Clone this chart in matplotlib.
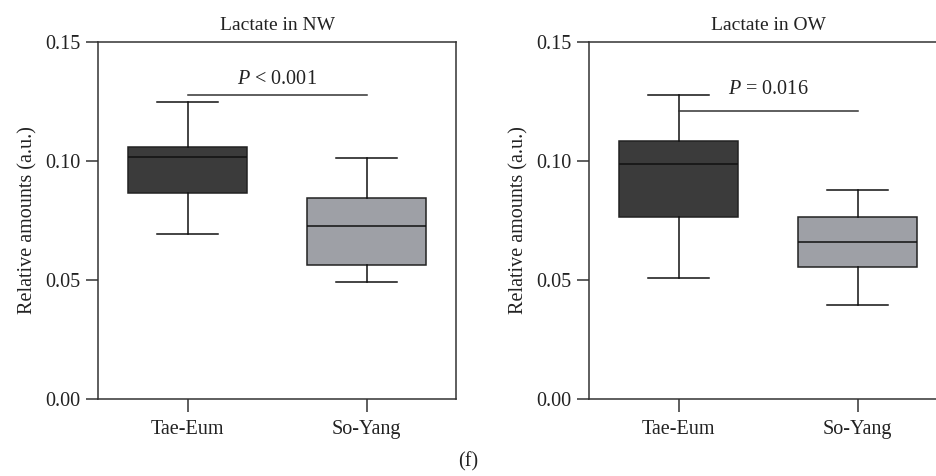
import matplotlib.pyplot as plt

groups = ['Tae-Eum', 'So-Yang']
titles = ['Lactate in NW', 'Lactate in OW']

# whislo, q1, med, q3, whishi per group
nw_stats = [[0.0692, 0.0867, 0.1017, 0.1060, 0.1249],
            [0.0490, 0.0565, 0.0726, 0.0845, 0.1011]]
ow_stats = [[0.0508, 0.0766, 0.0986, 0.1083, 0.1277],
            [0.0394, 0.0553, 0.0658, 0.0763, 0.0878]]
p_texts = ['$P$ < 0.001', '$P$ = 0.016']
p_line_y = [0.1279, 0.1210]
p_text_y = [0.1342, 0.1300]

colors = ['#3b3b3b', '#9ea0a6']

plt.rcParams['font.family'] = ['Liberation Serif', 'DejaVu Serif']
plt.rcParams['mathtext.fontset'] = 'custom'
plt.rcParams['mathtext.it'] = 'Liberation Serif:italic'
plt.rcParams['font.size'] = 14.5

fig = plt.figure(figsize=(9.36, 4.76), dpi=100)
W, H = 936, 476
ax_boxes = [(98, 42, 358, 357), (589, 42, 358, 357)]

for k, data in enumerate([nw_stats, ow_stats]):
    x0, y0, w, h = ax_boxes[k]
    ax = fig.add_axes([x0 / W, 1 - (y0 + h) / H, w / W, h / H])
    stats = []
    for name, s in zip(groups, data):
        stats.append({'label': name, 'whislo': s[0], 'q1': s[1], 'med': s[2],
                      'q3': s[3], 'whishi': s[4], 'fliers': []})
    bp = ax.bxp(stats, positions=[0, 1], widths=0.665, capwidths=0.34,
                patch_artist=True, showfliers=False,
                boxprops=dict(edgecolor='#222222', linewidth=1.1),
                medianprops=dict(color='#111111', linewidth=1.1),
                whiskerprops=dict(color='#111111', linewidth=1.1),
                capprops=dict(color='#111111', linewidth=1.1))
    for patch, c in zip(bp['boxes'], colors):
        patch.set_facecolor(c)
    ax.set_xlim(-0.5, 1.5)
    ax.set_ylim(0, 0.15)
    ax.set_yticks([0, 0.05, 0.10, 0.15])
    ax.set_yticklabels(['0.00', '0.05', '0.10', '0.15'])
    ax.set_xticks([0, 1])
    ax.set_xticklabels(groups)
    ax.tick_params(length=9, width=1.1, color='#333333', labelcolor='#222222')
    ax.tick_params(axis='x', pad=6)
    for sp in ax.spines.values():
        sp.set_linewidth(1.1)
        sp.set_color('#333333')
    ax.set_ylabel('Relative amounts (a.u.)', color='#222222', labelpad=6)
    ax.set_title(titles[k], fontsize=14, color='#222222', pad=9)
    ax.plot([0, 1], [p_line_y[k], p_line_y[k]], color='#333333', linewidth=1.1)
    ax.text(0.5, p_text_y[k], p_texts[k], ha='center', va='center',
            color='#222222')

fig.text(0.5, 1 - 462 / H, '(f)', ha='center', va='center', color='#222222')

plt.savefig('out.png', dpi=100)
